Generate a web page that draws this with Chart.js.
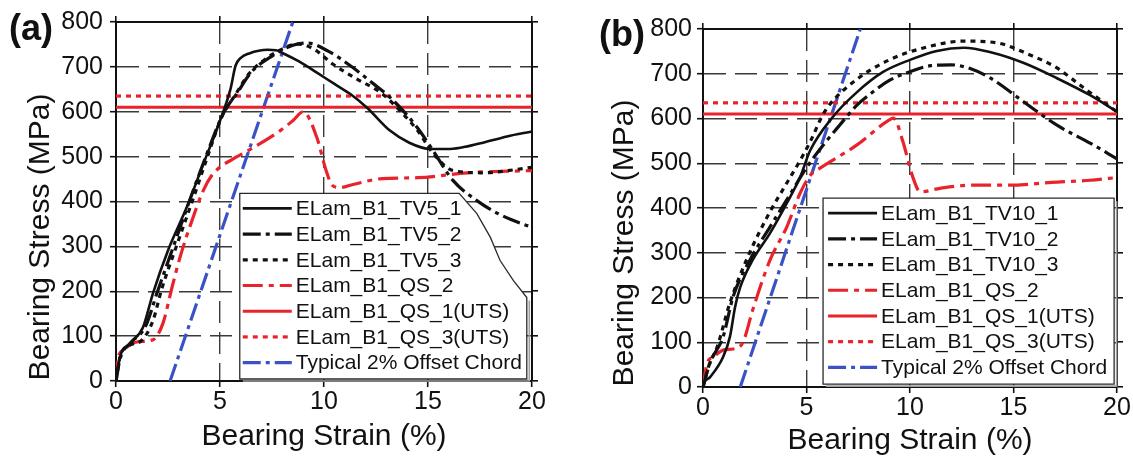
<!DOCTYPE html>
<html>
<head>
<meta charset="utf-8">
<script src="https://cdn.jsdelivr.net/npm/chart.js@4.4.1/dist/chart.umd.min.js"></script>
<style>
  html, body { margin: 0; padding: 0; background: #fff; }
  #wrap { position: relative; width: 1133px; height: 459px; overflow: hidden; background: #fff; }
  canvas { position: absolute; top: 0; }
  #ca { left: 0; width: 566px; height: 459px; }
  #cb { left: 566px; width: 567px; height: 459px; }
</style>
</head>
<body>
<div id="wrap">
  <canvas id="ca" width="566" height="459"></canvas>
  <canvas id="cb" width="567" height="459"></canvas>
</div>
<script>
// ---- axis ticks ----
const strainTicks = [0, 5, 10, 15, 20];
const stressTicks = [0, 100, 200, 300, 400, 500, 600, 700, 800];
const strainRange = [0, 20];

// ---- panel (a): [bearing strain %, bearing stress MPa] ----
const tv5_1 = [[0,0],[0.19,53],[0.67,84],[1.3,120],[1.78,196],[2.5,291],[3.4,387],[4.2,484],[5.0,580],[5.5,650],[5.75,703],[6.0,720],[6.4,730],[7.3,738],[7.7,737],[8.0,731],[8.8,712],[9.66,687],[10.5,662],[11.25,640],[12.07,609],[13.17,558],[14.1,531],[15.1,517],[16.06,517],[17.0,524],[17.64,531],[18.8,545],[20,556]];
const tv5_2 = [[0,0],[0.2,50],[0.7,85],[1.4,120],[2.0,200],[2.8,305],[3.6,410],[4.4,510],[5.2,600],[5.8,640],[6.5,688],[7.5,724],[8.5,748],[9.2,753],[10.2,735],[11.4,698],[12.3,665],[13.2,631],[14.5,564],[15.25,513],[16.2,447],[17.35,402],[18.5,370],[20,342]];
const tv5_3 = [[0,0],[0.2,55],[0.6,78],[1.25,91],[1.78,135],[2.2,205],[3.0,313],[3.7,405],[4.4,500],[5.1,590],[5.7,635],[6.4,685],[7.2,718],[8.0,740],[8.7,751],[9.5,740],[10.4,707],[11.5,675],[12.8,640],[13.7,600],[14.5,558],[15.25,507],[16.2,469],[17.6,464],[20,476]];
const qs2A = [[0,0],[0.05,40],[0.35,69],[1.0,87],[1.78,92],[2.26,129],[2.7,210],[3.08,276],[3.7,364],[4.2,425],[4.6,458],[5.1,480],[5.6,494],[6.6,520],[7.9,558],[8.5,580],[9.0,600],[9.66,542],[10.1,469],[10.4,436],[10.77,431],[11.4,438],[12.8,451],[14.5,453],[16.9,464],[20,469]];
const chordA = [[2.6,0],[8.5,800]];

// ---- panel (b) ----
const tv10_1 = [[0,0],[0.05,9],[0.34,22],[0.97,67],[1.3,112],[1.55,179],[1.8,223],[2.4,284],[3.24,344],[4.05,411],[4.7,470],[5.17,528],[6.3,605],[7.44,659],[8.7,704],[10,731],[11.3,751],[12.6,758],[13.9,748],[15.5,724],[17.1,690],[18.7,652],[20,615]];
const tv10_2 = [[0,0],[0.34,54],[0.97,112],[1.45,201],[2.27,284],[3.24,358],[4.2,430],[5.0,490],[5.8,540],[6.6,585],[7.4,628],[8.2,659],[9.0,685],[9.85,702],[11.0,718],[12.0,720],[13.0,710],[13.9,690],[15.5,637],[17.1,585],[18.7,545],[20,510]];
const tv10_3 = [[0,0],[0.3,50],[0.68,89],[1.3,188],[2.1,284],[3.1,380],[4.05,456],[4.7,507],[5.2,550],[5.75,605],[6.1,630],[7.44,688],[9.0,731],[10.6,757],[12.6,773],[14.2,769],[15.8,742],[17.1,713],[18.4,668],[20,615]];
const qs2B = [[0,0],[0.2,54],[0.5,67],[1.0,83],[1.45,85],[1.93,100],[2.4,172],[3.24,284],[4.05,358],[4.7,434],[5.2,474],[5.65,489],[7.44,541],[9.0,597],[9.2,601],[9.66,548],[10.1,474],[10.5,436],[11.45,444],[13.0,451],[14.7,451],[17.1,458],[18.7,462],[20,468]];
const chordB = [[1.8,0],[7.6,800]];

// ---- quasi-static ultimate bearing strengths (MPa) ----
const qs1Uts = 610;
const qs3Uts = 635;

const labelsA = ['ELam_B1_TV5_1', 'ELam_B1_TV5_2', 'ELam_B1_TV5_3', 'ELam_B1_QS_2', 'ELam_B1_QS_1(UTS)', 'ELam_B1_QS_3(UTS)', 'Typical 2% Offset Chord'];
const labelsB = ['ELam_B1_TV10_1', 'ELam_B1_TV10_2', 'ELam_B1_TV10_3', 'ELam_B1_QS_2', 'ELam_B1_QS_1(UTS)', 'ELam_B1_QS_3(UTS)', 'Typical 2% Offset Chord'];

const FONT = '"Liberation Sans", Arial, Helvetica, sans-serif';
const BLACK = '#111111';
const RED = '#e8232b';
const BLUE = '#3a52c6';
const DASHDOT = [18, 5, 4, 5];
const DOTTED = [5, 5];

function toXY(pts) { return pts.map(([x, y]) => ({ x, y })); }
function level(v) { return strainRange.map(x => ({ x, y: v })); }

function line(label, data, color, width, dash, smooth) {
  return {
    label, data, borderColor: color, backgroundColor: color,
    borderWidth: width, borderDash: dash, pointRadius: 0, fill: false,
    borderCapStyle: 'butt', borderJoinStyle: 'round',
    cubicInterpolationMode: smooth ? 'monotone' : 'default', tension: 0
  };
}

// Legend drawn as a framed box inside the plot, optionally with a clipped corner
const boxLegend = {
  id: 'boxLegend',
  afterDatasetsDraw(chart, _a, o) {
    const { ctx } = chart;
    const xs = chart.scales.x, ys = chart.scales.y;
    const L = xs.getPixelForValue(o.box[0]), R = xs.getPixelForValue(o.box[1]);
    const B = ys.getPixelForValue(o.box[2]), T = ys.getPixelForValue(o.box[3]);
    const edge = (o.cut || []).map(([sx, sy]) => [xs.getPixelForValue(sx), ys.getPixelForValue(sy)]);
    const sTop = edge.length ? edge[edge.length - 1][1] : T;
    ctx.save();
    ctx.strokeStyle = '#a0a0a0'; ctx.lineWidth = 1.6;
    ctx.beginPath();
    ctx.moveTo(R + 2.5, sTop + 3); ctx.lineTo(R + 2.5, B + 2); ctx.lineTo(L + 3, B + 2);
    ctx.stroke();
    ctx.beginPath();
    ctx.moveTo(L, B); ctx.lineTo(L, T);
    if (edge.length) {
      ctx.lineTo(edge[0][0], T);
      edge.forEach(p => ctx.lineTo(p[0], p[1]));
      ctx.lineTo(R, sTop);
    } else {
      ctx.lineTo(R, T);
    }
    ctx.lineTo(R, B); ctx.closePath();
    ctx.fillStyle = '#fff'; ctx.fill();
    ctx.strokeStyle = '#2a2a2a'; ctx.lineWidth = 1.3; ctx.stroke();

    ctx.font = `${o.fontSize}px ${FONT}`;
    ctx.textBaseline = 'middle'; ctx.textAlign = 'left';
    chart.data.datasets.forEach((ds, i) => {
      const y = T + o.firstRow + i * o.rowGap;
      const x0 = L + o.inset;
      ctx.save();
      ctx.strokeStyle = ds.borderColor; ctx.lineWidth = ds.borderWidth;
      ctx.setLineDash(ds.borderDash || []);
      ctx.beginPath(); ctx.moveTo(x0, y); ctx.lineTo(x0 + o.sample, y); ctx.stroke();
      ctx.restore();
      ctx.fillStyle = BLACK;
      ctx.fillText(ds.label, x0 + o.sample + o.gap, y + 1);
    });
    ctx.restore();
  }
};

// Panel tag and axis titles
const panelText = {
  id: 'panelText',
  afterDraw(chart, _a, o) {
    const { ctx, chartArea: a } = chart;
    ctx.save();
    ctx.fillStyle = BLACK;
    ctx.textAlign = 'center';
    ctx.textBaseline = 'middle';
    ctx.font = `bold ${o.tagSize}px ${FONT}`;
    ctx.fillText(o.tag, o.tagX, o.tagY);
    ctx.textBaseline = 'alphabetic';
    ctx.font = `${o.titleSize}px ${FONT}`;
    ctx.fillText(o.xTitle, (a.left + a.right) / 2, o.xTitleBase);
    ctx.translate(o.yTitleBase, o.yTitleMid);
    ctx.rotate(-Math.PI / 2);
    ctx.fillText(o.yTitle, 0, 0);
    ctx.restore();
  }
};

function setTicks(values) {
  return scale => { scale.ticks = values.map(v => ({ value: v })); };
}

function makePanel(id, p) {
  const gridMain = { color: '#3a3a3a', lineWidth: 1.4, drawTicks: true, tickLength: 6, tickColor: BLACK, tickWidth: 1.6 };
  const frame = { display: true, color: BLACK, width: 2 };
  const tickFont = { family: FONT, size: 25 };
  return new Chart(document.getElementById(id), {
    type: 'line',
    data: { datasets: p.datasets },
    options: {
      responsive: false, animation: false, events: [],
      layout: { padding: p.padding },
      plugins: {
        legend: { display: false }, tooltip: { enabled: false },
        boxLegend: p.legend, panelText: p.text
      },
      scales: {
        x: {
          type: 'linear', position: 'bottom', min: 0, max: 20,
          afterBuildTicks: setTicks(strainTicks),
          afterFit: s => { s.height = p.xHeight; },
          grid: gridMain, border: Object.assign({ dash: [22, 9] }, frame),
          ticks: { font: tickFont, color: BLACK, padding: 0, maxRotation: 0, autoSkip: false }
        },
        x2: {
          type: 'linear', position: 'top', min: 0, max: 20,
          afterBuildTicks: setTicks(strainTicks),
          afterFit: s => { s.height = 6; },
          grid: { drawOnChartArea: false, drawTicks: true, tickLength: 6, color: BLACK, lineWidth: 1.6 },
          border: frame, ticks: { display: false }
        },
        y: {
          type: 'linear', position: 'left', min: 0, max: 800,
          afterBuildTicks: setTicks(stressTicks),
          afterFit: s => { s.width = p.yWidth; },
          grid: gridMain, border: Object.assign({ dash: [22, 9] }, frame),
          ticks: { font: tickFont, color: BLACK, padding: p.yPad, autoSkip: false }
        },
        y2: {
          type: 'linear', position: 'right', min: 0, max: 800,
          afterBuildTicks: setTicks(stressTicks),
          afterFit: s => { s.width = 6; },
          grid: { drawOnChartArea: false, drawTicks: true, tickLength: 6, color: BLACK, lineWidth: 1.6 },
          border: frame, ticks: { display: false }
        }
      }
    },
    plugins: [boxLegend, panelText]
  });
}

function panelSets(labels, s1, s2, s3, qs2, chord) {
  return [
    line(labels[0], toXY(s1), BLACK, 2.6, [], true),
    line(labels[1], toXY(s2), BLACK, 3.2, DASHDOT, true),
    line(labels[2], toXY(s3), BLACK, 3.2, DOTTED, true),
    line(labels[3], toXY(qs2), RED, 3.2, [20, 6, 5, 6], true),
    line(labels[4], level(qs1Uts), RED, 3, [], false),
    line(labels[5], level(qs3Uts), RED, 3.2, DOTTED, false),
    line(labels[6], toXY(chord), BLUE, 3.2, DASHDOT, false)
  ];
}

makePanel('ca', {
  datasets: panelSets(labelsA, tv5_1, tv5_2, tv5_3, qs2A, chordA),
  padding: { left: 0, top: 16, right: 28, bottom: 0 },
  xHeight: 78, yWidth: 116, yPad: 7,
  legend: {
    box: [5.95, 19.75, 4.5, 418],
    cut: [[16.5, 418], [17.35, 373], [18.0, 320], [18.46, 269], [19.1, 224], [19.75, 186]],
    fontSize: 21, firstRow: 15, rowGap: 25.7, inset: 3, sample: 49, gap: 4
  },
  text: {
    tag: '(a)', tagSize: 36, tagX: 31, tagY: 30,
    xTitle: 'Bearing Strain (%)', yTitle: 'Bearing Stress (MPa)',
    titleSize: 30, xTitleBase: 445, yTitleBase: 49, yTitleMid: 237
  }
});

makePanel('cb', {
  datasets: panelSets(labelsB, tv10_1, tv10_2, tv10_3, qs2B, chordB),
  padding: { left: 0, top: 23, right: 10, bottom: 0 },
  xHeight: 72, yWidth: 137, yPad: 5,
  legend: {
    box: [5.8, 19.86, 6.5, 422],
    cut: null,
    fontSize: 21, firstRow: 15, rowGap: 25.7, inset: 5, sample: 49, gap: 4
  },
  text: {
    tag: '(b)', tagSize: 36, tagX: 56, tagY: 36,
    xTitle: 'Bearing Strain (%)', yTitle: 'Bearing Stress (MPa)',
    titleSize: 30, xTitleBase: 449, yTitleBase: 67, yTitleMid: 243
  }
});
</script>
</body>
</html>
